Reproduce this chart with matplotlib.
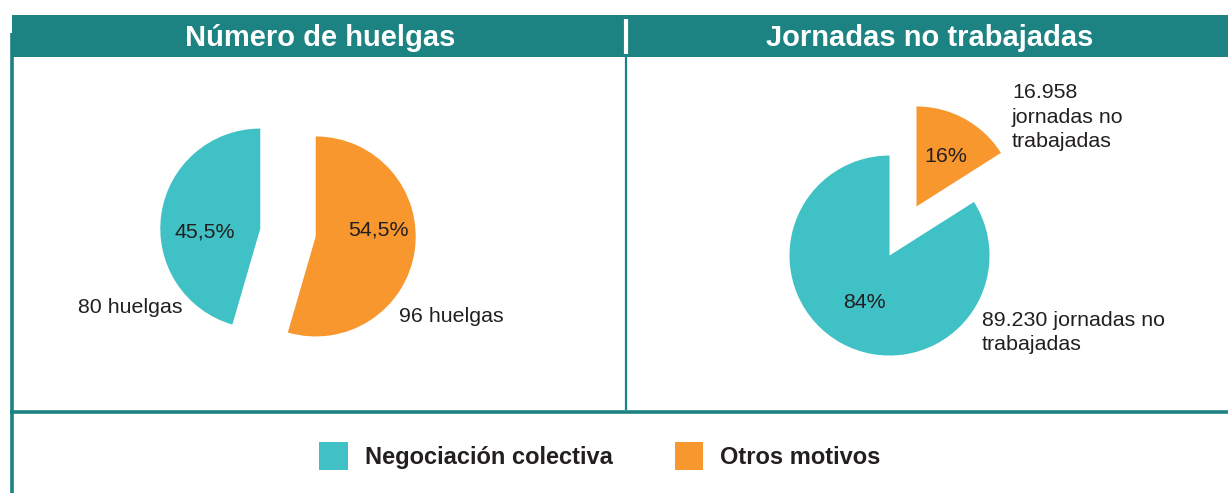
import matplotlib
matplotlib.use("Agg")
import matplotlib.pyplot as plt
from matplotlib.patches import Rectangle, Patch

plt.rcParams['font.family'] = ['Liberation Sans', 'DejaVu Sans']

# data
categorias = ["Negociación colectiva", "Otros motivos"]
huelgas_pct = [45.5, 54.5]
huelgas_n = [80, 96]
jornadas_pct = [84, 16]
jornadas_n = ["89.230", "16.958"]
titulos = ["Número de huelgas", "Jornadas no trabajadas"]

teal = "#40c1c6"
orange = "#f7972d"
header = "#1c8282"
txt = "#231f20"

W, H = 1228, 493
fig = plt.figure(figsize=(W / 100, H / 100), dpi=100)

# background frame in pixel coords
bg = fig.add_axes([0, 0, 1, 1])
bg.set_xlim(0, W)
bg.set_ylim(H, 0)
bg.axis("off")
bg.add_patch(Rectangle((12, 15), W - 12, 42, color=header, lw=0))
bg.plot([626, 626], [19, 54], color="white", lw=3.0, solid_capstyle="butt")
bg.plot([626, 626], [57, 410], color=header, lw=1.6, solid_capstyle="butt")
bg.plot([12, 12], [33, H], color=header, lw=2.6, solid_capstyle="butt")
bg.plot([10, W], [411.5, 411.5], color=header, lw=2.6, solid_capstyle="butt")
bg.text(320, 46, titulos[0], color="white", fontsize=21, fontweight="bold",
        ha="center", va="baseline")
bg.text(930, 46, titulos[1], color="white", fontsize=21, fontweight="bold",
        ha="center", va="baseline")

handles = [Patch(facecolor=teal, edgecolor="none"), Patch(facecolor=orange, edgecolor="none")]
leg = bg.legend(handles, categorias, ncol=2, frameon=False, loc="center",
                bbox_to_anchor=(600, 456), bbox_transform=bg.transData,
                prop={"size": 17, "weight": "bold"}, handlelength=1.19,
                handleheight=1.45, handletextpad=0.72, columnspacing=2.65)
for t in leg.get_texts():
    t.set_color(txt)


def pie_axes(cx, cy):
    ax = fig.add_axes([(cx - 200) / W, (H - cy - 200) / H, 400 / W, 400 / H])
    ax.set_xlim(-2, 2)
    ax.set_ylim(-2, 2)
    ax.axis("off")
    return ax


def put(ax, cx, cy, px, py, s, **kw):
    ax.text((px - cx) / 100, (cy - py) / 100, s, fontsize=15.4, color=txt,
            va="baseline", **kw)


# left pie
cx1, cy1 = 288, 232.5
ax1 = pie_axes(cx1, cy1)
ax1.pie(huelgas_pct, colors=[teal, orange], startangle=90, explode=[0.28, 0.28],
        radius=1, wedgeprops={"linewidth": 0})
ax1.set_xlim(-2, 2)
ax1.set_ylim(-2, 2)
put(ax1, cx1, cy1, 205, 237, f"{huelgas_pct[0]:.1f}%".replace(".", ","), ha="center")
put(ax1, cx1, cy1, 378, 235, f"{huelgas_pct[1]:.1f}%".replace(".", ","), ha="center")
put(ax1, cx1, cy1, 130, 313, f"{huelgas_n[0]} huelgas", ha="center")
put(ax1, cx1, cy1, 451, 322, f"{huelgas_n[1]} huelgas", ha="center")

# right pie
cx2, cy2 = 903, 231
ax2 = pie_axes(cx2, cy2)
ax2.pie(jornadas_pct, colors=[teal, orange], startangle=90, explode=[0.28, 0.28],
        radius=1, wedgeprops={"linewidth": 0})
ax2.set_xlim(-2, 2)
ax2.set_ylim(-2, 2)
put(ax2, cx2, cy2, 864, 308, f"{jornadas_pct[0]}%", ha="center")
put(ax2, cx2, cy2, 946, 162, f"{jornadas_pct[1]}%", ha="center")
# multiline: baseline refers to the last line
put(ax2, cx2, cy2, 1012, 147, f"{jornadas_n[1]}\njornadas no\ntrabajadas", ha="left",
    linespacing=1.36)
put(ax2, cx2, cy2, 982, 350, f"{jornadas_n[0]} jornadas no\ntrabajadas", ha="left",
    linespacing=1.36)

fig.savefig("out.png", dpi=100)
